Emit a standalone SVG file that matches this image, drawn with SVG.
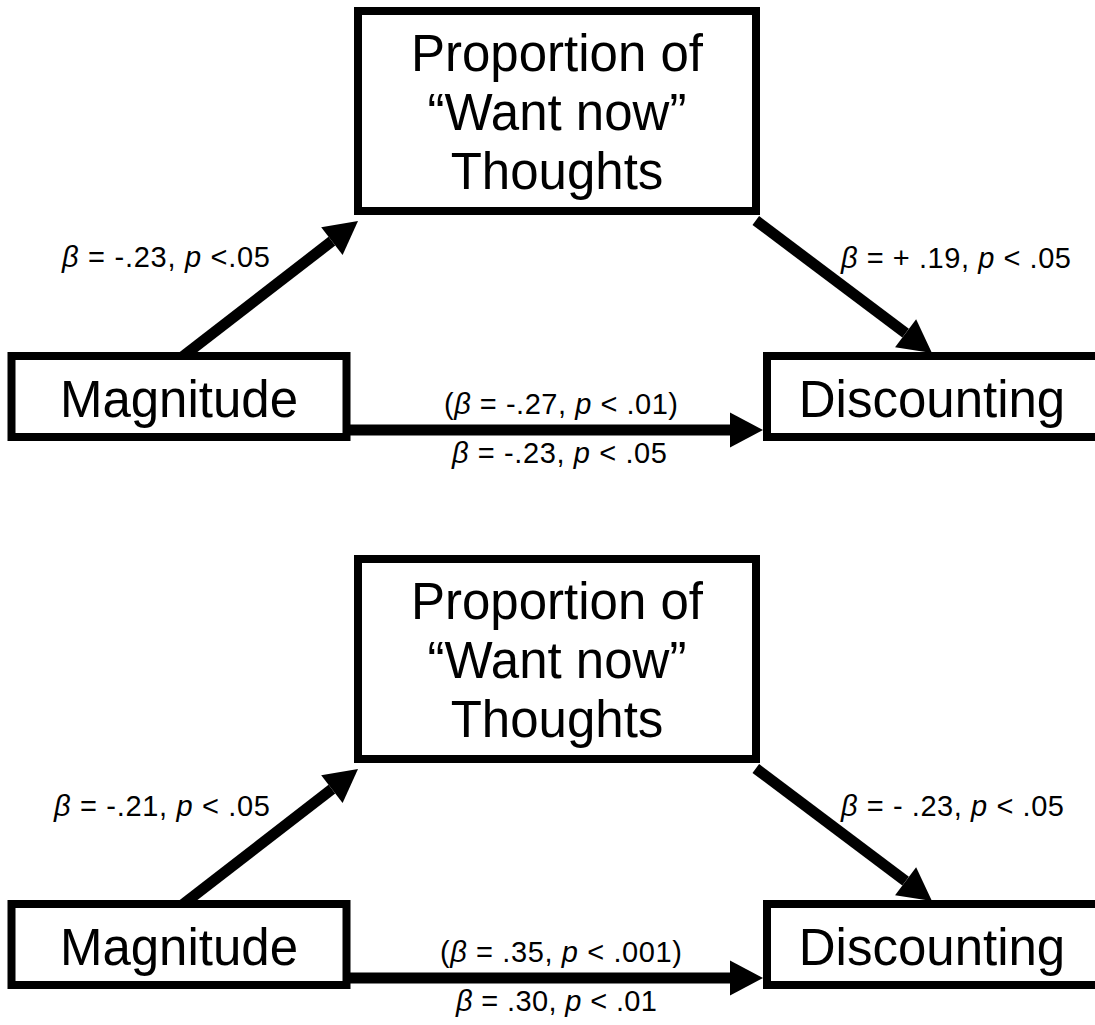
<svg xmlns="http://www.w3.org/2000/svg" width="1095" height="1025" viewBox="0 0 1095 1025">
<style>
.box{fill:#fff;stroke:#000;stroke-width:8}
.big{font-family:"Liberation Sans",Arial,sans-serif;font-size:51px;fill:#000;text-anchor:middle}
.lab{font-family:"Liberation Sans",Arial,sans-serif;font-size:29px;fill:#000}
.it{font-style:italic}
.arr{stroke:#000;stroke-width:11;fill:none;marker-end:url(#ah)}
</style>
<defs>
<marker id="ah" markerUnits="userSpaceOnUse" markerWidth="34" markerHeight="36" refX="0" refY="17.5" orient="auto" overflow="visible">
<path d="M0,0 L33,17.5 L0,35 z" fill="#000"/>
</marker>
</defs>
<rect width="1095" height="1025" fill="#fff"/>
<g id="connectors">
<line class="arr" x1="180.8" y1="358" x2="331.9" y2="241.2"/>
<line class="arr" x1="755.8" y1="220.5" x2="905.6" y2="333.2"/>
<line class="arr" x1="345" y1="430" x2="730" y2="430"/>
<line class="arr" x1="180.8" y1="906" x2="331.9" y2="789.2"/>
<line class="arr" x1="755.8" y1="768.5" x2="905.6" y2="881.2"/>
<line class="arr" x1="345" y1="978" x2="730" y2="978"/>
</g>
<g id="labels">
<text class="lab" x="62" y="267" textLength="208" lengthAdjust="spacing"><tspan class="it">β</tspan> = -.23, <tspan class="it">p</tspan> &lt;.05</text>
<text class="lab" x="841" y="268" textLength="230" lengthAdjust="spacing"><tspan class="it">β</tspan> = + .19, <tspan class="it">p</tspan> &lt; .05</text>
<text class="lab" x="444" y="414" textLength="234" lengthAdjust="spacing">(<tspan class="it">β</tspan> = -.27, <tspan class="it">p</tspan> &lt; .01)</text>
<text class="lab" x="452" y="463" textLength="215" lengthAdjust="spacing"><tspan class="it">β</tspan> = -.23, <tspan class="it">p</tspan> &lt; .05</text>
<text class="lab" x="54" y="816" textLength="216" lengthAdjust="spacing"><tspan class="it">β</tspan> = -.21, <tspan class="it">p</tspan> &lt; .05</text>
<text class="lab" x="841" y="816" textLength="223" lengthAdjust="spacing"><tspan class="it">β</tspan> = - .23, <tspan class="it">p</tspan> &lt; .05</text>
<text class="lab" x="440" y="962" textLength="242" lengthAdjust="spacing">(<tspan class="it">β</tspan> = .35, <tspan class="it">p</tspan> &lt; .001)</text>
<text class="lab" x="456" y="1011" textLength="201" lengthAdjust="spacing"><tspan class="it">β</tspan> = .30, <tspan class="it">p</tspan> &lt; .01</text>
</g>
<g id="proportion1">
<rect class="box" x="358" y="11" width="398" height="200"/>
<text class="big" x="557" y="71">Proportion of</text>
<text class="big" x="557" y="130">“Want now”</text>
<text class="big" x="557" y="189">Thoughts</text>
</g>
<g id="magnitude1">
<rect class="box" x="11.5" y="356" width="335" height="81"/>
<text class="big" x="179" y="417">Magnitude</text>
</g>
<g id="discounting1">
<rect class="box" x="767" y="356" width="340" height="81"/>
<text class="big" x="932" y="417">Discounting</text>
</g>
<g id="proportion2">
<rect class="box" x="358" y="559" width="398" height="200"/>
<text class="big" x="557" y="619">Proportion of</text>
<text class="big" x="557" y="678">“Want now”</text>
<text class="big" x="557" y="737">Thoughts</text>
</g>
<g id="magnitude2">
<rect class="box" x="11.5" y="904" width="335" height="81"/>
<text class="big" x="179" y="965">Magnitude</text>
</g>
<g id="discounting2">
<rect class="box" x="767" y="904" width="340" height="81"/>
<text class="big" x="932" y="965">Discounting</text>
</g>
</svg>
